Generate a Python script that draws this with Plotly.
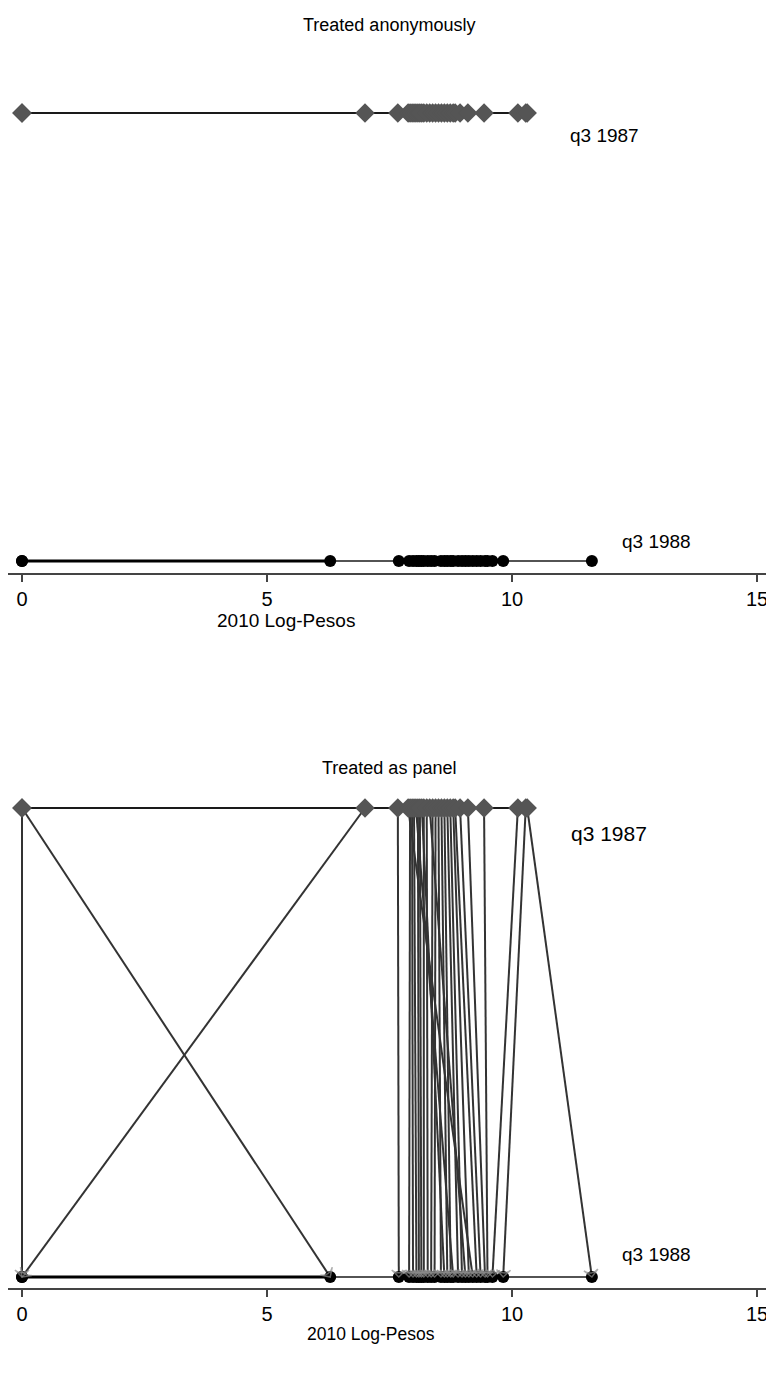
import plotly.graph_objects as go

# ---- data ----
# each individual: 2010 log-pesos in q3 1987 and q3 1988 (same order = panel pairs)
q3_1987 = [0.0, 0.0, 7.0, 7.67, 7.88, 7.92, 7.96, 8.0, 8.04, 8.08, 8.12, 8.16, 8.2, 8.26, 8.32,
           8.38, 8.44, 8.5, 8.56, 8.62, 8.68, 8.74, 8.8, 8.84, 8.94, 9.1, 9.43, 10.12, 10.28, 10.31]
q3_1988 = [0.0, 6.29, 0.0, 7.69, 9.2, 7.9, 7.98, 8.05, 8.8, 8.1, 8.15, 8.62, 8.2, 8.28, 9.05,
           8.35, 8.42, 8.55, 8.68, 8.75, 8.9, 8.98, 9.12, 9.28, 9.36, 9.45, 9.5, 9.6, 9.82, 11.63]
row_labels = ["q3 1987", "q3 1988"]
tick_vals = [0, 5, 10, 15]
x_title = "2010 Log-Pesos"
panel_titles = ["Treated anonymously", "Treated as panel"]

OFF = 8  # page body margin
W, H = 774 - OFF, 1387 - 3 * OFF


def py(p):
    return 1 - (p - OFF) / H


def px(p):
    return (p - OFF) / W


fig = go.Figure()

s87 = sorted(q3_1987)
s88 = sorted(q3_1988)

for k, (xa, ya) in enumerate([("x", "y"), ("x2", "y2")]):
    fig.add_trace(go.Scatter(x=s87, y=[1] * len(s87), mode="lines", xaxis=xa, yaxis=ya,
                             line=dict(color="#1a1a1a", width=2), hoverinfo="skip"))
    fig.add_trace(go.Scatter(x=s88, y=[0] * len(s88), mode="lines", xaxis=xa, yaxis=ya,
                             line=dict(color="#1a1a1a", width=1.6), hoverinfo="skip"))
    fig.add_trace(go.Scatter(x=s88[:3], y=[0] * 3, mode="lines", xaxis=xa, yaxis=ya,
                             line=dict(color="#000000", width=3.2), hoverinfo="skip"))
    if k == 1:
        lx, ly, sz = [], [], []
        for a, b in zip(q3_1987, q3_1988):
            lx += [a, b, None]
            ly += [1, 0, None]
            sz += [0, 10, 0]
        fig.add_trace(go.Scatter(x=lx, y=ly, mode="lines", xaxis=xa, yaxis=ya,
                                 line=dict(color="#333333", width=2), hoverinfo="skip"))
    fig.add_trace(go.Scatter(x=q3_1987, y=[1] * len(q3_1987), mode="markers", xaxis=xa, yaxis=ya,
                             marker=dict(symbol="diamond", size=15, color="#555555"), hoverinfo="skip"))
    fig.add_trace(go.Scatter(x=q3_1988, y=[0] * len(q3_1988), mode="markers", xaxis=xa, yaxis=ya,
                             marker=dict(symbol="circle", size=12, color="#000000"), hoverinfo="skip"))
    if k == 1:
        fig.add_trace(go.Scatter(x=lx, y=ly, mode="markers", xaxis=xa, yaxis=ya,
                                 marker=dict(symbol="arrow-wide-open", size=sz, color="#8a8a8a",
                                             angleref="previous", line=dict(width=1.5, color="#8a8a8a")),
                                 hoverinfo="skip"))

xr = [-14 / 49, (762 - 14) / 49]
xdom = [px(8), px(770)]
xcommon = dict(range=xr, domain=xdom, tickvals=tick_vals, ticks="outside", ticklen=7, tickwidth=1.5,
               tickcolor="#444444", showline=True, linecolor="#444444", linewidth=1.5,
               showgrid=False, zeroline=False, tickfont=dict(size=20, color="#000000"),
               fixedrange=True)

fig.update_layout(
    width=W, height=H,
    margin=dict(l=0, r=0, t=0, b=0),
    paper_bgcolor="white", plot_bgcolor="white",
    showlegend=False,
    font=dict(family="Liberation Sans, Arial, sans-serif", color="#000000"),
    xaxis=dict(anchor="y", **xcommon),
    xaxis2=dict(anchor="y2", **xcommon),
    yaxis=dict(domain=[py(573), py(80)], range=[-12 / 448, 1 + 33 / 448], visible=False, fixedrange=True),
    yaxis2=dict(domain=[py(1288), py(780)], range=[-11 / 469, 1 + 28 / 469], visible=False, fixedrange=True),
)

ann = [
    dict(text=panel_titles[0], x=389, y=25, size=18),
    dict(text=panel_titles[1], x=389, y=768, size=18),
    dict(text=x_title, x=286, y=620, size=19),
    dict(text=x_title, x=371, y=1334, size=17.5),
    dict(text=row_labels[0], x=604, y=135, size=19),
    dict(text=row_labels[1], x=656, y=541, size=19),
    dict(text=row_labels[0], x=609, y=834, size=21),
    dict(text=row_labels[1], x=656, y=1254, size=19),
]
fig.update_layout(annotations=[
    dict(text=a["text"], x=px(a["x"]), y=py(a["y"]), xref="paper", yref="paper", showarrow=False,
         xanchor="center", yanchor="middle", font=dict(size=a["size"], color="#000000"))
    for a in ann
])

fig.write_html("out.html")
